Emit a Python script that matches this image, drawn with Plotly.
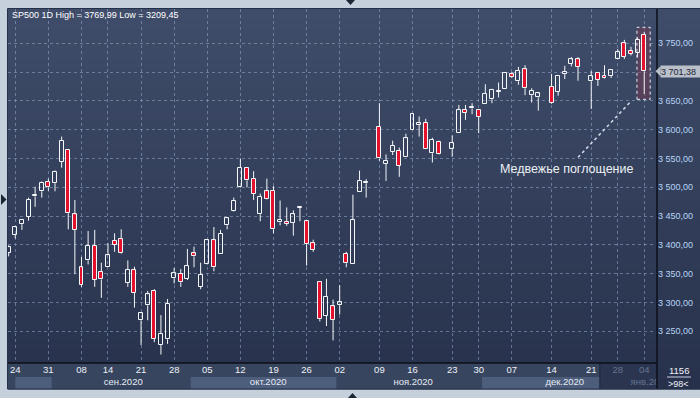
import plotly.graph_objects as go

# ---------------- data ----------------
slots = list(range(-1, 96))
opens = [3386, 3417, 3436, 3449, 3484, 3493, 3510, 3507, 3544, 3565, 3453,
         3361, 3373, 3398, 3353, 3362, 3407, 3410, 3334, 3357, 3269,
         3295, 3320, 3226, 3236, 3342, 3350, 3341, 3385, 3327, 3367,
         3408, 3384, 3434, 3459, 3500, 3534, 3515, 3453, 3493, 3494,
         3439, 3440, 3438, 3464, 3441, 3403, 3336, 3277, 3293, 3295,
         3384, 3366, 3491, 3507, None, 3605, 3541, 3562, 3563, 3553,
         3600, 3609, 3612, 3559, 3579, None, 3566, 3595, 3635, 3637,
         3634, 3645, 3653, 3666, 3671, 3696, 3684, 3705, 3660, 3656,
         None, 3675, 3666, 3697, 3714, 3722, None, 3684, 3698, 3694,
         3694, 3723, 3750, 3736, 3734, 3765]
highs = [3399, 3433, 3443, 3482, 3501, 3510, 3515, 3529, 3588, 3565, 3478,
         3379, 3424, 3426, 3369, 3403, 3420, 3427, 3373, 3362, 3282,
         3320, 3323, 3278, 3306, 3360, 3358, 3393, 3397, 3369, 3409,
         3431, 3426, 3447, 3482, 3550, 3534, 3528, 3489, 3515, 3502,
         3477, 3465, 3460, 3466, 3442, 3409, 3336, 3341, 3305, 3330,
         3388, 3487, 3529, 3514, None, 3646, 3557, 3581, 3569, 3593,
         3628, 3623, 3619, 3586, 3581, None, 3590, 3643, 3643, 3646,
         3634, 3679, 3671, 3682, 3700, 3700, 3709, 3712, 3672, 3665,
         None, 3697, 3695, 3711, 3726, 3726, None, 3702, 3698, 3712,
         3703, 3740, 3756, 3744, 3760, 3769.99]
lows = [3380, 3411, 3426, 3442, 3466, 3482, 3494, 3493, 3534, 3427, 3349,
        3327, 3366, 3327, 3308, 3362, 3388, 3384, 3327, 3291, 3226,
        3269, 3231, 3209.45, 3228, 3333, 3327, 3339, 3361, 3323, 3366,
        3354, 3384, 3427, 3458, 3499, 3500, 3478, 3441, 3479, 3420,
        3434, 3433, 3416, 3441, 3364, 3388, 3267, 3259, 3234, 3279,
        3361, 3366, 3491, 3482, None, 3546, 3511, 3556, 3518, 3553,
        3600, 3588, 3567, 3543, 3557, None, 3553, 3595, 3617, 3627,
        3594, 3645, 3646, 3656, 3671, 3690, 3678, 3660, 3647, 3633,
        None, 3645, 3659, 3688, 3710, 3685, None, 3636, 3676, 3689,
        3690, 3723, 3723, 3729, 3726, 3662]
closes = [3396, 3431, 3443, 3478, 3486, 3508, 3500, 3527, 3581, 3455, 3426,
          3330, 3398, 3339, 3340, 3382, 3400, 3385, 3357, 3317, 3281,
          3314, 3237, 3245, 3298, 3351, 3335, 3363, 3380, 3348, 3408,
          3361, 3419, 3446, 3477, 3534, 3512, 3489, 3483, 3480, 3427,
          3443, 3436, 3453, 3465, 3401, 3391, 3271, 3310, 3270, 3301,
          3368, 3443, 3511, 3509, None, 3550, 3546, 3572, 3537, 3585,
          3627, 3611, 3567, 3582, 3558, None, 3577, 3635, 3629, 3639,
          3622, 3662, 3669, 3668, 3699, 3692, 3702, 3672, 3668, 3663,
          None, 3647, 3694, 3701, 3722, 3709, None, 3694, 3687, 3690,
          3703, 3735, 3727, 3732, 3756, 3701.38]

week_slots = [0, 5, 10, 14, 19, 24, 29, 34, 39, 44, 49, 55, 60, 66, 70, 75, 81, 87, 91, 95]
week_labels = ["24", "31", "08", "14", "21", "28", "05", "12", "19", "26",
               "02", "09", "16", "23", "30", "07", "14", "21", "28", "04"]
month_labels = ["сен.2020", "окт.2020", "ноя.2020", "дек.2020", "янв.2020"]
month_centers = [16.3, 38.2, 60.1, 83.0, 95.9]
price_ticks = [3250, 3300, 3350, 3400, 3450, 3500, 3550, 3600, 3650, 3700, 3750]
# the 3 700,00 label is hidden behind the last-price marker in the reference
price_tick_text = ["3 250,00", "3 300,00", "3 350,00", "3 400,00", "3 450,00", "3 500,00",
                   "3 550,00", "3 600,00", "3 650,00", "", "3 750,00"]
title_text = "SP500 1D High = 3769,99 Low = 3209,45"
last_price = 3701.38
last_price_text = "3 701,38"
pattern_text = "Медвежье поглощение"

# ---------------- geometry helpers (pixel -> paper) ----------------
W, H = 700, 398
L_PX, R_PX, T_PX, B_PX = 8, 657, 9, 389
SPLIT_PX = 363


def pxx(p):
    return (p - L_PX) / (R_PX - L_PX)


def pxy(p):
    return (B_PX - p) / (B_PX - T_PX)


main_bottom = pxy(SPLIT_PX)
XR = [-1.1, 96.93]
YR = [3194.8, 3809.6]
py_per_price = (331 - 43.3) / 500.0

FONT = "Liberation Sans, Arial, sans-serif"
RED = "#e3112c"
WHITE = "#f4f6fa"

fig = go.Figure()

# wicks (drawn outside bodies)
wx, wy = [], []
bx_up, base_up, h_up = [], [], []
bx_dn, base_dn, h_dn = [], [], []
for s, o, hi, lo, c in zip(slots, opens, highs, lows, closes):
    if o is None:
        continue
    top, bot = max(o, c), min(o, c)
    wx += [s, s, None, s, s, None]
    wy += [top, hi, None, lo, bot, None]
    size = max(top - bot, 0.6)
    if c >= o:
        bx_up.append(s); base_up.append(bot); h_up.append(size)
    else:
        bx_dn.append(s); base_dn.append(bot); h_dn.append(size)

fig.add_trace(go.Scatter(x=wx, y=wy, mode="lines", line=dict(color=WHITE, width=1),
                         hoverinfo="skip", showlegend=False, xaxis="x", yaxis="y"))
fig.add_trace(go.Bar(x=bx_up, y=h_up, base=base_up, width=0.6,
                     marker=dict(color="rgba(0,0,0,0)", line=dict(color=WHITE, width=1)),
                     showlegend=False, xaxis="x", yaxis="y"))
fig.add_trace(go.Bar(x=bx_dn, y=h_dn, base=base_dn, width=0.6,
                     marker=dict(color=RED, line=dict(color=WHITE, width=1)),
                     showlegend=False, xaxis="x", yaxis="y"))

# bottom strip labels (clipped to strip)
week_colors = ["#eef2f8" if s < 88.3 else "#66748f" for s in week_slots]
fig.add_trace(go.Scatter(x=week_slots, y=[0.69] * len(week_slots), mode="text",
                         text=week_labels, textfont=dict(family=FONT, size=9.5, color=week_colors),
                         cliponaxis=True, hoverinfo="skip", showlegend=False,
                         xaxis="x2", yaxis="y2"))
month_colors = ["#e6ecf5"] * 4 + ["#66748f"]
fig.add_trace(go.Scatter(x=month_centers, y=[0.26] * len(month_centers), mode="text",
                         text=month_labels, textfont=dict(family=FONT, size=9.5, color=month_colors),
                         cliponaxis=True, hoverinfo="skip", showlegend=False,
                         xaxis="x2", yaxis="y2"))

shapes = []
# background gradient (plot + right panel)
top_c = (63, 77, 106)
bot_c = (39, 49, 75)
n = 38
for i in range(n):
    t = i / (n - 1)
    col = tuple(round(top_c[k] + (bot_c[k] - top_c[k]) * t) for k in range(3))
    y0 = T_PX + (B_PX - T_PX) * i / n
    y1 = T_PX + (B_PX - T_PX) * (i + 1) / n + 0.5
    shapes.append(dict(type="rect", xref="paper", yref="paper", x0=pxx(L_PX), x1=pxx(W + 2),
                       y0=pxy(y1), y1=pxy(y0), fillcolor="rgb(%d,%d,%d)" % col,
                       line=dict(width=0), layer="below"))

# bottom strip background and month bands
shapes.append(dict(type="rect", xref="x2 domain", yref="y2", x0=0, x1=1, y0=0, y1=1,
                   fillcolor="#37455f", line=dict(width=0), layer="below"))
for a, b in [(0, 5.5), (26.5, 48.5), (70.5, 88.3)]:
    shapes.append(dict(type="rect", xref="x2", yref="y2", x0=a, x1=b, y0=0, y1=0.46,
                       fillcolor="#4d5d7c", line=dict(width=0), layer="below"))
shapes.append(dict(type="rect", xref="x2", yref="y2", x0=88.3, x1=98, y0=0, y1=1,
                   fillcolor="#2b354f", line=dict(width=0), layer="below"))
shapes.append(dict(type="line", xref="x2", yref="y2", x0=88.3, x1=88.3, y0=0, y1=1,
                   line=dict(color="#1f273b", width=1), layer="below"))

# highlight of the bearish engulfing
shapes.append(dict(type="rect", xref="x", yref="y", x0=93.9, x1=95.9, y0=3652.7, y1=3777.8,
                   fillcolor="rgba(115,58,82,0.5)", line=dict(color="#e8ecf2", width=1, dash="dot"),
                   layer="between"))
shapes.append(dict(type="line", xref="x", yref="y", x0=85.0, y0=3552, x1=92.9, y1=3648,
                   line=dict(color="#d6dde8", width=1.5, dash="dot"), layer="above"))

# black separator lines
shapes.append(dict(type="line", xref="paper", yref="paper", x0=pxx(L_PX), x1=pxx(R_PX),
                   y0=main_bottom, y1=main_bottom, line=dict(color="#0c0f18", width=1.5)))
shapes.append(dict(type="line", xref="paper", yref="paper", x0=1, x1=1, y0=0, y1=1,
                   line=dict(color="#0c0f18", width=1.5)))
shapes.append(dict(type="rect", xref="paper", yref="paper", x0=pxx(L_PX - 0.5), x1=pxx(W + 2),
                   y0=pxy(B_PX), y1=pxy(T_PX - 0.5), line=dict(color="#243048", width=1)))

# current price marker arrow
dp = 5 / py_per_price
shapes.append(dict(type="path", xref="paper", yref="y",
                   path="M %f,%f L %f,%f L %f,%f Z" % (pxx(655.5), last_price, pxx(660.5),
                                                        last_price + dp, pxx(660.5), last_price - dp),
                   fillcolor="#b9c0c9", line=dict(width=0)))

# bottom-right counter underline
shapes.append(dict(type="line", xref="paper", yref="paper", x0=pxx(667), x1=pxx(691),
                   y0=pxy(377), y1=pxy(377), line=dict(color="#c8d0de", width=1)))

# frame triangles
shapes.append(dict(type="path", xref="paper", yref="paper",
                   path="M %f,%f L %f,%f L %f,%f Z" % (pxx(1), pxy(194), pxx(6.5), pxy(199.5), pxx(1), pxy(205)),
                   fillcolor="#1c2536", line=dict(width=0)))
shapes.append(dict(type="path", xref="paper", yref="paper",
                   path="M %f,%f L %f,%f L %f,%f Z" % (pxx(346), pxy(0), pxx(355), pxy(0), pxx(350.5), pxy(5)),
                   fillcolor="#1c2536", line=dict(width=0)))
shapes.append(dict(type="path", xref="paper", yref="paper",
                   path="M %f,%f L %f,%f L %f,%f Z" % (pxx(348), pxy(398), pxx(357), pxy(398), pxx(352.5), pxy(393)),
                   fillcolor="#1c2536", line=dict(width=0)))

annotations = [
    dict(text=title_text, xref="paper", yref="paper", x=pxx(10), y=pxy(15),
         xanchor="left", yanchor="middle", showarrow=False,
         font=dict(family=FONT, size=9, color="#ffffff")),
    dict(text=pattern_text, xref="x", yref="y", x=83.3, y=3531.5, showarrow=False,
         xanchor="center", yanchor="middle", font=dict(family=FONT, size=12.5, color="#eef1f6")),
    dict(text=last_price_text, xref="paper", yref="y", x=pxx(660), y=last_price,
         xanchor="left", yanchor="middle", showarrow=False, bgcolor="#b9c0c9",
         borderpad=0, width=39, height=11, align="left",
         font=dict(family=FONT, size=9, color="#1b2538")),
    dict(text="1156", xref="paper", yref="paper", x=pxx(679), y=pxy(370.5), showarrow=False,
         xanchor="center", yanchor="middle", font=dict(family=FONT, size=9.5, color="#f0f3f8")),
    dict(text="&gt;98&lt;", xref="paper", yref="paper", x=pxx(679), y=pxy(383.5), showarrow=False,
         xanchor="center", yanchor="middle", font=dict(family=FONT, size=9, color="#f0f3f8")),
]

fig.update_layout(
    width=W, height=H,
    margin=dict(l=L_PX, r=W - R_PX, t=T_PX, b=H - B_PX, autoexpand=False),
    paper_bgcolor="#c6d0dc", plot_bgcolor="rgba(0,0,0,0)",
    barmode="overlay", bargap=0, showlegend=False,
    shapes=shapes, annotations=annotations,
    xaxis=dict(domain=[0, 1], anchor="y", range=XR, tickvals=week_slots, showticklabels=False,
               ticks="", showgrid=True, gridcolor="rgba(150,170,205,0.55)", griddash="3px,3px",
               gridwidth=1, zeroline=False, fixedrange=True),
    yaxis=dict(domain=[main_bottom, 1], anchor="x", side="right", range=YR,
               tickvals=price_ticks, ticktext=price_tick_text, ticks="",
               tickfont=dict(family=FONT, size=9, color="#b8d4f6"),
               showgrid=True, gridcolor="rgba(150,170,205,0.55)", griddash="3px,3px",
               gridwidth=1, zeroline=False, fixedrange=True),
    xaxis2=dict(domain=[0, 1], anchor="y2", matches="x", range=XR, showticklabels=False,
                showgrid=False, zeroline=False, ticks=""),
    yaxis2=dict(domain=[0, main_bottom], anchor="x2", range=[0, 1], showticklabels=False,
                showgrid=False, zeroline=False, ticks=""),
)

fig.write_html("out.html", config={"displayModeBar": False},
               post_script="document.body.style.margin='0';document.body.style.overflow='hidden';")
